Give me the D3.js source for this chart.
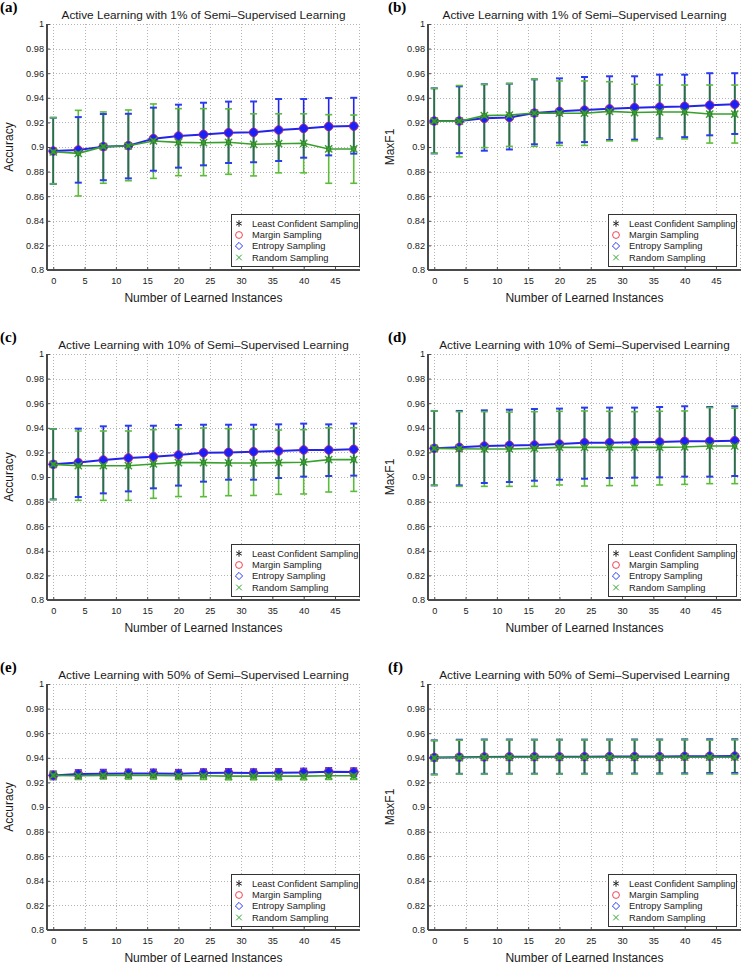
<!DOCTYPE html>
<html><head><meta charset="utf-8">
<script src="https://cdn.jsdelivr.net/npm/d3@7"></script>
<style>body{margin:0;background:#fff}svg{display:block}</style>
</head><body>
<script>
// ---------------- data ----------------
const instances = [0, 4, 8, 12, 16, 20, 24, 28, 32, 36, 40, 44, 48];
const xTicks = [0, 5, 10, 15, 20, 25, 30, 35, 40, 45];
const yTicks = [0.8, 0.82, 0.84, 0.86, 0.88, 0.9, 0.92, 0.94, 0.96, 0.98, 1];
const yTickLabels = ["0.8", "0.82", "0.84", "0.86", "0.88", "0.9", "0.92", "0.94", "0.96", "0.98", "1"];
const seriesNames = ["Least Confident Sampling", "Margin Sampling", "Entropy Sampling", "Random Sampling"];
const panelLetters = ["(a)", "(b)", "(c)", "(d)", "(e)", "(f)"];
const panelTitles = [
  "Active Learning with 1% of Semi\u2013Supervised Learning",
  "Active Learning with 1% of Semi\u2013Supervised Learning",
  "Active Learning with 10% of Semi\u2013Supervised Learning",
  "Active Learning with 10% of Semi\u2013Supervised Learning",
  "Active Learning with 50% of Semi\u2013Supervised Learning",
  "Active Learning with 50% of Semi\u2013Supervised Learning"];
const yLabels = ["Accuracy", "MaxF1", "Accuracy", "MaxF1", "Accuracy", "MaxF1"];
const xLabel = "Number of Learned Instances";

// (a) Accuracy, 1%  — uncertainty samplers (LC / Margin / Entropy nearly identical) and random
const aUncMean = [0.8967,0.8976,0.9003,0.9011,0.9068,0.9089,0.9102,0.9116,0.9119,0.9138,0.9151,0.9167,0.9170];
const aUncHigh = [0.9238,0.9243,0.9268,0.9270,0.9320,0.9344,0.9360,0.9369,0.9370,0.9390,0.9390,0.9398,0.9400];
const aUncLow  = [0.8700,0.8710,0.8730,0.8745,0.8807,0.8832,0.8851,0.8870,0.8876,0.8886,0.8913,0.8932,0.8946];
const aRndMean = [0.8961,0.8948,0.9003,0.9010,0.9049,0.9038,0.9035,0.9038,0.9022,0.9027,0.9030,0.8984,0.8984];
const aRndHigh = [0.9238,0.9298,0.9285,0.9301,0.9350,0.9312,0.9312,0.9310,0.9270,0.9270,0.9270,0.9263,0.9260];
const aRndLow  = [0.8700,0.8602,0.8705,0.8726,0.8745,0.8767,0.8767,0.8778,0.8765,0.8790,0.8790,0.8705,0.8705];

// (b) MaxF1, 1%
const bUncMean = [0.9211,0.9211,0.9233,0.9240,0.9276,0.9290,0.9300,0.9310,0.9320,0.9325,0.9330,0.9340,0.9347];
const bUncHigh = [0.9477,0.9493,0.9510,0.9515,0.9550,0.9558,0.9569,0.9575,0.9575,0.9588,0.9588,0.9600,0.9600];
const bUncLow  = [0.8948,0.8950,0.8970,0.8980,0.9022,0.9035,0.9040,0.9057,0.9060,0.9070,0.9080,0.9095,0.9106];
const bRndMean = [0.9210,0.9210,0.9255,0.9260,0.9276,0.9275,0.9275,0.9290,0.9280,0.9285,0.9285,0.9268,0.9268];
const bRndHigh = [0.9477,0.9500,0.9510,0.9515,0.9550,0.9537,0.9537,0.9531,0.9510,0.9504,0.9504,0.9504,0.9504];
const bRndLow  = [0.8948,0.8920,0.8995,0.9005,0.9005,0.9013,0.9013,0.9050,0.9050,0.9066,0.9066,0.9032,0.9032];

// (c) Accuracy, 10%
const cUncMean = [0.9103,0.9117,0.9138,0.9155,0.9165,0.9179,0.9198,0.9200,0.9206,0.9211,0.9220,0.9220,0.9225];
const cUncHigh = [0.9390,0.9393,0.9412,0.9417,0.9417,0.9423,0.9425,0.9425,0.9425,0.9428,0.9434,0.9428,0.9434];
const cUncLow  = [0.8818,0.8837,0.8867,0.8883,0.8908,0.8930,0.8962,0.8978,0.8978,0.8992,0.9003,0.9008,0.9011];
const cRndMean = [0.9103,0.9092,0.9092,0.9092,0.9106,0.9117,0.9117,0.9114,0.9114,0.9117,0.9120,0.9141,0.9141];
const cRndHigh = [0.9390,0.9374,0.9374,0.9374,0.9385,0.9393,0.9398,0.9393,0.9388,0.9382,0.9385,0.9400,0.9400];
const cRndLow  = [0.8816,0.8810,0.8810,0.8810,0.8827,0.8841,0.8840,0.8848,0.8850,0.8859,0.8862,0.8878,0.8883];

// (d) MaxF1, 10%
const dUncMean = [0.9233,0.9241,0.9252,0.9257,0.9260,0.9268,0.9279,0.9279,0.9282,0.9285,0.9290,0.9290,0.9295];
const dUncHigh = [0.9537,0.9537,0.9542,0.9547,0.9553,0.9556,0.9564,0.9564,0.9564,0.9569,0.9575,0.9569,0.9575];
const dUncLow  = [0.8932,0.8932,0.8951,0.8959,0.8970,0.8978,0.8986,0.8992,0.8995,0.8997,0.9003,0.9003,0.9008];
const dRndMean = [0.9233,0.9230,0.9228,0.9228,0.9233,0.9241,0.9241,0.9241,0.9241,0.9241,0.9244,0.9252,0.9252];
const dRndHigh = [0.9537,0.9531,0.9531,0.9528,0.9531,0.9534,0.9537,0.9534,0.9531,0.9534,0.9537,0.9564,0.9560];
const dRndLow  = [0.8932,0.8924,0.8924,0.8924,0.8924,0.8935,0.8927,0.8930,0.8930,0.8935,0.8940,0.8946,0.8946];

// (e) Accuracy, 50%
const eUncMean = [0.9257,0.9268,0.9270,0.9273,0.9273,0.9270,0.9276,0.9278,0.9276,0.9278,0.9281,0.9286,0.9284];
const eUncHigh = [0.9289,0.9300,0.9303,0.9305,0.9305,0.9302,0.9307,0.9309,0.9307,0.9309,0.9312,0.9317,0.9315];
const eUncLow  = [0.9225,0.9236,0.9237,0.9241,0.9241,0.9238,0.9245,0.9247,0.9245,0.9247,0.9250,0.9255,0.9253];
const eRndMean = [0.9257,0.9254,0.9257,0.9257,0.9257,0.9254,0.9254,0.9251,0.9251,0.9251,0.9251,0.9254,0.9254];
const eRndHigh = [0.9289,0.9284,0.9287,0.9287,0.9287,0.9284,0.9284,0.9281,0.9281,0.9281,0.9281,0.9284,0.9284];
const eRndLow  = [0.9225,0.9224,0.9227,0.9227,0.9227,0.9224,0.9224,0.9221,0.9221,0.9221,0.9221,0.9224,0.9224];

// (f) MaxF1, 50%
const fUncMean = [0.9402,0.9405,0.9407,0.9408,0.9408,0.9408,0.9409,0.9410,0.9410,0.9410,0.9412,0.9413,0.9414];
const fUncHigh = [0.9542,0.9547,0.9549,0.9549,0.9548,0.9548,0.9548,0.9549,0.9549,0.9549,0.9550,0.9551,0.9551];
const fUncLow  = [0.9265,0.9270,0.9270,0.9271,0.9271,0.9270,0.9271,0.9273,0.9272,0.9273,0.9274,0.9276,0.9277];
const fRndMean = [0.9400,0.9402,0.9404,0.9404,0.9404,0.9404,0.9404,0.9404,0.9404,0.9404,0.9405,0.9405,0.9405];
const fRndHigh = [0.9540,0.9543,0.9545,0.9545,0.9545,0.9545,0.9545,0.9545,0.9545,0.9545,0.9546,0.9544,0.9546];
const fRndLow  = [0.9264,0.9268,0.9268,0.9268,0.9268,0.9268,0.9268,0.9268,0.9268,0.9268,0.9268,0.9268,0.9268];

const panelData = [
  [aUncMean, aUncLow, aUncHigh, aRndMean, aRndLow, aRndHigh],
  [bUncMean, bUncLow, bUncHigh, bRndMean, bRndLow, bRndHigh],
  [cUncMean, cUncLow, cUncHigh, cRndMean, cRndLow, cRndHigh],
  [dUncMean, dUncLow, dUncHigh, dRndMean, dRndLow, dRndHigh],
  [eUncMean, eUncLow, eUncHigh, eRndMean, eRndLow, eRndHigh],
  [fUncMean, fUncLow, fUncHigh, fRndMean, fRndLow, fRndHigh]];

// ---------------- layout / style ----------------
const W = 743, H = 965;
const colLeft = [47, 428];
const rowTop = [24, 354, 684];
const pw = 313, ph = 246;
const legendLeftRel = [184, 180];
const FONT = "'Liberation Sans', Arial, Helvetica, sans-serif";
const C = {
  blue: "#2424e8", blueCap: "#2a3cf0", green: "#38a02c", greenCap: "#5cbc3a",
  overlap: "#2e6c48", red: "#e8305a", grid: "#b4b4b4", axis: "#4a4a4a", text: "#1a1a1a"
};

const svg = d3.select("body").append("svg").attr("width", W).attr("height", H)
  .style("font-family", FONT);

panelData.forEach((arrs, pi) => {
  const [uM, uL, uH, rM, rL, rH] = arrs;
  const col = pi % 2, row = Math.floor(pi / 2);
  const left = colLeft[col], top = rowTop[row];
  const g = svg.append("g").attr("transform", `translate(${left},${top})`);
  const x = d3.scaleLinear().domain([-1, 49]).range([0, pw]);
  const y = d3.scaleLinear().domain([0.8, 1]).range([ph, 0]);

  // grid
  const grid = g.append("g").attr("stroke", C.grid).attr("stroke-width", 1)
    .attr("stroke-dasharray", "1,2").attr("fill", "none");
  yTicks.forEach(v => grid.append("line").attr("x1", 0).attr("x2", pw)
    .attr("y1", Math.round(y(v)) + 0.5).attr("y2", Math.round(y(v)) + 0.5));
  xTicks.forEach(v => grid.append("line").attr("y1", 0).attr("y2", ph)
    .attr("x1", Math.round(x(v)) + 0.5).attr("x2", Math.round(x(v)) + 0.5));
  grid.append("line").attr("x1", pw - 0.5).attr("x2", pw - 0.5).attr("y1", 0).attr("y2", ph);

  // axes
  const ax = g.append("g").attr("transform", `translate(0,${ph})`)
    .call(d3.axisBottom(x).tickValues(xTicks).tickSize(-3).tickPadding(7).tickFormat(d3.format("d")));
  const ay = g.append("g")
    .call(d3.axisLeft(y).tickValues(yTicks).tickSize(-3).tickPadding(3)
      .tickFormat((d, i) => yTickLabels[i]));
  [ax, ay].forEach(a => {
    a.select(".domain").attr("stroke", C.axis).attr("stroke-width", 2);
    a.selectAll(".tick line").attr("stroke", C.axis).attr("stroke-width", 1);
    a.selectAll(".tick text").attr("fill", C.text).style("font-size", "9.2px").style("font-family", FONT);
  });
  ay.select(".domain").attr("d", `M0,0V${ph}`);
  ax.select(".domain").attr("d", `M0,0H${pw}`);

  // error bars
  const capW = 3.5;
  const eb = g.append("g").attr("fill", "none").attr("stroke-width", 1.6);
  instances.forEach((xi, i) => {
    const px = x(xi);
    eb.append("line").attr("x1", px).attr("x2", px).attr("y1", y(uL[i])).attr("y2", y(uH[i])).attr("stroke", C.blue);
    eb.append("line").attr("x1", px).attr("x2", px).attr("y1", y(rL[i])).attr("y2", y(rH[i])).attr("stroke", C.greenCap);
    const lo = Math.max(uL[i], rL[i]), hi = Math.min(uH[i], rH[i]);
    if (hi > lo) eb.append("line").attr("x1", px).attr("x2", px).attr("y1", y(lo)).attr("y2", y(hi)).attr("stroke", C.overlap);
    [uL[i], uH[i]].forEach(v => eb.append("line").attr("x1", px - capW).attr("x2", px + capW)
      .attr("y1", y(v)).attr("y2", y(v)).attr("stroke", C.blueCap).attr("stroke-width", 2));
    [rL[i], rH[i]].forEach(v => eb.append("line").attr("x1", px - capW).attr("x2", px + capW)
      .attr("y1", y(v)).attr("y2", y(v)).attr("stroke", C.greenCap).attr("stroke-width", 1.6));
  });

  // lines
  const line = arr => d3.line().x((d, i) => x(instances[i])).y(d => y(d))(arr);
  g.append("path").attr("d", line(uM)).attr("fill", "none").attr("stroke", C.blue).attr("stroke-width", 2);

  // uncertainty markers: LC asterisk, margin circle, entropy diamond
  const mk = g.append("g");
  uM.forEach((v, i) => {
    const px = x(instances[i]), py = y(v);
    mk.append("path").attr("transform", `translate(${px},${py})`)
      .attr("d", d3.symbol(d3.symbolAsterisk, 40)()).attr("stroke", "#000").attr("fill", "none");
    mk.append("circle").attr("cx", px).attr("cy", py).attr("r", 4.3)
      .attr("fill", "#2a2ae0").attr("stroke", C.red).attr("stroke-width", 1);
    mk.append("path").attr("transform", `translate(${px},${py}) rotate(45)`)
      .attr("d", d3.symbol(d3.symbolSquare, 44)()).attr("fill", "#1e1ef6").attr("stroke", "#3030f0").attr("stroke-width", 0.8);
  });

  g.append("path").attr("d", line(rM)).attr("fill", "none").attr("stroke", C.green).attr("stroke-width", 1.6);
  const mr = g.append("g");
  rM.forEach((v, i) => {
    const px = x(instances[i]), py = y(v);
    mr.append("rect").attr("x", px - 2.5).attr("y", py - 2.5).attr("width", 5).attr("height", 5).attr("fill", "#2f7a32");
    mr.append("path").attr("transform", `translate(${px},${py})`)
      .attr("d", d3.symbol(d3.symbolTimes, 36)()).attr("stroke", "#3aa02e").attr("stroke-width", 1.4).attr("fill", "none");
  });

  // titles
  g.append("text").attr("x", pw / 2).attr("y", -5).attr("text-anchor", "middle")
    .style("font-size", "11.8px").attr("fill", C.text).text(panelTitles[pi]);
  g.append("text").attr("x", pw / 2).attr("y", ph + 31.5).attr("text-anchor", "middle")
    .style("font-size", "12px").attr("fill", C.text).text(xLabel);
  g.append("text").attr("transform", `translate(${-34},${ph / 2}) rotate(-90)`).attr("text-anchor", "middle")
    .style("font-size", "12px").attr("fill", C.text).text(yLabels[pi]);
  svg.append("text").attr("x", col === 0 ? 0 : 388).attr("y", top - 12)
    .style("font-family", "'Liberation Serif', 'Times New Roman', serif").style("font-weight", "bold")
    .style("font-size", "15px").attr("fill", "#000").text(panelLetters[pi]);

  // legend
  const lg = g.append("g").attr("transform", `translate(${legendLeftRel[col]},${190})`);
  lg.append("rect").attr("x", 0.5).attr("y", 0.5).attr("width", 128).attr("height", 52)
    .attr("fill", "#fff").attr("stroke", "#333").attr("stroke-width", 1);
  const rowsY = [9.5, 21, 32, 43.5];
  seriesNames.forEach((name, k) => {
    const cy = rowsY[k], cx = 8;
    const m = lg.append("g").attr("transform", `translate(${cx},${cy})`);
    if (k === 0) m.append("path").attr("d", d3.symbol(d3.symbolAsterisk, 30)()).attr("stroke", "#222").attr("fill", "none").attr("stroke-width", 1);
    if (k === 1) m.append("circle").attr("r", 3.4).attr("fill", "none").attr("stroke", "#f03040").attr("stroke-width", 0.9);
    if (k === 2) m.append("path").attr("transform", "rotate(45)").attr("d", d3.symbol(d3.symbolSquare, 26)()).attr("fill", "none").attr("stroke", "#2030f0").attr("stroke-width", 0.9);
    if (k === 3) m.append("path").attr("d", d3.symbol(d3.symbolTimes, 22)()).attr("fill", "none").attr("stroke", "#30a830").attr("stroke-width", 1);
    lg.append("text").attr("x", 21).attr("y", cy + 3.3).style("font-size", "9.3px").attr("fill", C.text).text(name);
  });
});
</script>
</body></html>
